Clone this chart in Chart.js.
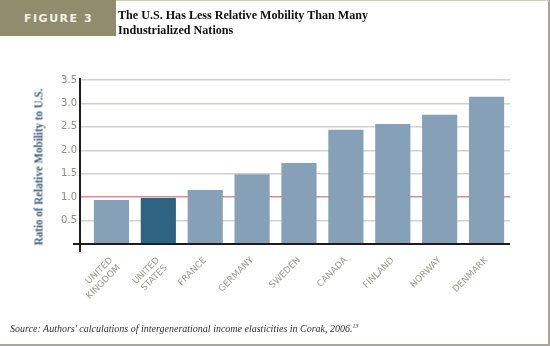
<!DOCTYPE html>
<html>
<head>
<meta charset="utf-8">
<script src="https://cdn.jsdelivr.net/npm/chart.js@4.4.1/dist/chart.umd.min.js"></script>
<style>
  html, body { margin: 0; padding: 0; background: #fff; }
  .page { position: relative; width: 550px; height: 346px; overflow: hidden; background: #fff; }
  .frame { position: absolute; left: 0; top: 0; width: 548px; height: 343px;
           border-top: 1px solid #cfcdbc; border-right: 2px solid #a9a793; border-bottom: 2px solid #a9a793; }
  .fig-box { position: absolute; left: 0; top: 0; width: 116px; height: 36px; background: #8f8d6e; }
  .fig-label { position: absolute; left: 24px; top: 12px; font: bold 11px "DejaVu Sans", sans-serif;
               letter-spacing: 1.5px; color: #f4f2e6; }
  .title { position: absolute; left: 118px; top: 8px; font: bold 13px "Liberation Serif", serif;
           line-height: 14.5px; color: #111; transform: scaleX(0.93); transform-origin: left top; white-space: nowrap; }
  .ytitle { position: absolute; left: 39px; top: 167px; font: bold 12px "Liberation Serif", serif;
            color: #3e5c76; white-space: nowrap; transform: translate(-50%, -50%) rotate(-90deg) scaleX(0.92); }
  .source { position: absolute; left: 10px; top: 323px; font: italic 10px "Liberation Serif", serif; color: #333; white-space: nowrap; }
  .source sup { font-size: 6px; }
  canvas { position: absolute; left: 0; top: 0; }
</style>
</head>
<body>
<div class="page">
  <canvas id="chart" width="550" height="346"></canvas>
  <div class="frame"></div>
  <div class="fig-box"><div class="fig-label">FIGURE 3</div></div>
  <div class="title">The U.S. Has Less Relative Mobility Than Many<br>Industrialized Nations</div>
  <div class="ytitle">Ratio of Relative Mobility to U.S.</div>
  <div class="source">Source: Authors' calculations of intergenerational income elasticities in Corak, 2006.<sup>13</sup></div>
</div>
<script>
const countries = [
  ["UNITED", "KINGDOM"], ["UNITED", "STATES"], "FRANCE", "GERMANY", "SWEDEN",
  "CANADA", "FINLAND", "NORWAY", "DENMARK"
];
const mobilityRatio = [0.94, 0.98, 1.15, 1.49, 1.73, 2.44, 2.56, 2.76, 3.14];
const yTicks = [0, 0.5, 1.0, 1.5, 2.0, 2.5, 3.0, 3.5];

const barColor = "#86a0b8";
const usColor = "#2e6381";
const barColors = countries.map((c) => (Array.isArray(c) && c[1] === "STATES" ? usColor : barColor));

// axis lines: y axis sits a little left of the first category
const axisLines = {
  id: "axisLines",
  afterDatasetsDraw(chart) {
    const { ctx, chartArea, scales } = chart;
    const y0 = scales.y.getPixelForValue(0);
    const axisX = chartArea.left - 8;
    ctx.save();
    ctx.strokeStyle = "#1c1c1c";
    ctx.lineWidth = 2;
    ctx.beginPath();
    ctx.moveTo(axisX - 7, y0);
    ctx.lineTo(chartArea.right, y0);
    ctx.moveTo(axisX, chartArea.top - 2);
    ctx.lineTo(axisX, y0 + 8);
    ctx.stroke();
    ctx.restore();
  },
};

new Chart(document.getElementById("chart").getContext("2d"), {
  type: "bar",
  data: {
    labels: countries,
    datasets: [
      {
        data: mobilityRatio,
        backgroundColor: barColors,
        borderWidth: 0,
        barPercentage: 0.75,
        categoryPercentage: 1,
      },
    ],
  },
  options: {
    responsive: false,
    animation: false,
    layout: { padding: { top: 80, right: 40, left: 0, bottom: 0 } },
    plugins: { legend: { display: false }, tooltip: { enabled: false } },
    scales: {
      x: {
        afterFit: (scale) => { scale.height = 102; },
        grid: { display: false },
        border: { display: false },
        ticks: {
          autoSkip: false,
          minRotation: 45,
          maxRotation: 45,
          padding: 3,
          color: "#9d9c90",
          font: { family: "DejaVu Sans", size: 9 },
        },
      },
      y: {
        min: 0,
        max: 3.5,
        afterFit: (scale) => { scale.width = 88; },
        afterBuildTicks: (scale) => { scale.ticks = yTicks.map((v) => ({ value: v })); },
        border: { display: false },
        grid: {
          tickLength: 8,
          lineWidth: (c) => (c.tick && c.tick.value === 0 ? 0 : 1.5),
          color: (c) => (c.tick && c.tick.value === 1 ? "#c9938f" : "#d3d1c9"),
        },
        ticks: {
          padding: 3,
          color: "#8e8d84",
          font: { family: "DejaVu Sans", size: 10 },
          callback: (v) => (v === 0 ? "" : Number(v).toFixed(1)),
        },
      },
    },
  },
  plugins: [axisLines],
});
</script>
</body>
</html>
